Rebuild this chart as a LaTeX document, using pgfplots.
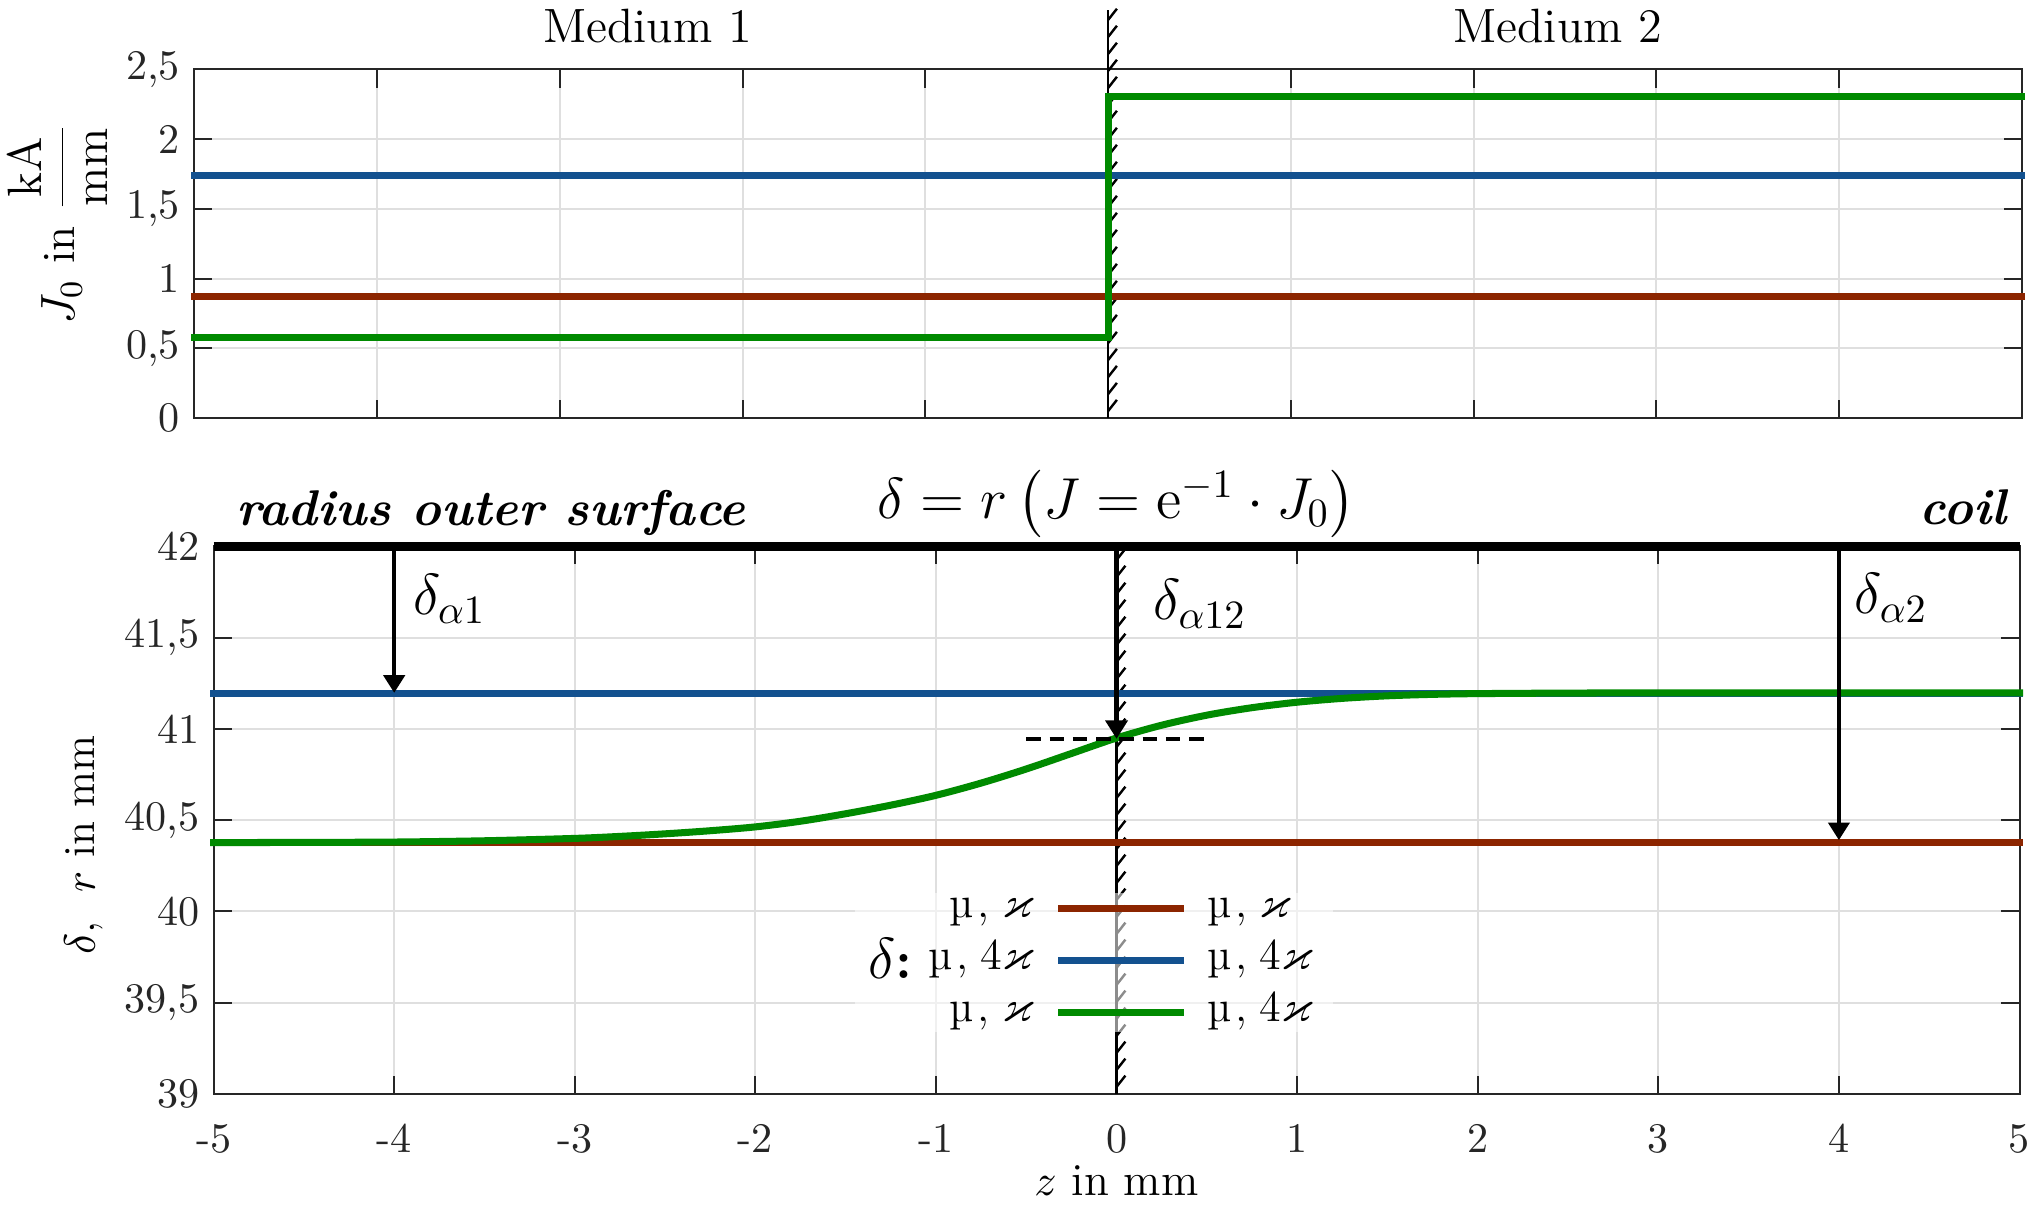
\documentclass[border=0pt]{standalone}
\usepackage{amsmath,amssymb}
\usepackage{pgfplots}
\pgfplotsset{compat=1.18}
\usetikzlibrary{arrows.meta}
\definecolor{axc}{RGB}{38,38,38}
\definecolor{gridc}{RGB}{223,223,223}
\definecolor{cred}{RGB}{140,37,0}
\definecolor{cblue}{RGB}{19,81,143}
\definecolor{cgreen}{RGB}{0,138,0}
\pgfplotsset{
  base/.style={scale only axis, clip=false, xmin=-5, xmax=5,
    axis line style={axc, line width=0.5pt},
    tick style={axc, line width=0.5pt},
    major tick length=4.5pt, tick align=inside,
    grid=major, major grid style={gridc, line width=0.5pt},
    tick label style={axc, font=\fontsize{10.5}{12}\selectfont},
    xtick={-5,-4,-3,-2,-1,0,1,2,3,4,5},
  },
  dl/.style={line width=1.75pt, line cap=rect, no marks},
}
\begin{document}
\begin{tikzpicture}
\useasboundingbox (0,0) rectangle (505.7pt,-301.66pt);
% ---------------- top axis ----------------
\begin{axis}[base, at={(48.38pt,-104.12pt)}, anchor=south west,
  width=455.3pt, height=86.81pt, ymin=0, ymax=2.5,
  ytick={0,0.5,1,1.5,2,2.5}, yticklabels={0,{0,5},1,{1,5},2,{2,5}},
  xticklabels={}]
\draw[black, line width=0.7pt] (axis cs:0,2.925) -- (axis cs:0,0);
\pgfplotsinvokeforeach{0,...,23}{\draw[black, line width=0.6pt] (axis cs:0,{2.855-#1*0.122}) -- ++(2.2pt,2.8pt);}
\addplot[dl, cred] coordinates {(-5,0.868) (5,0.868)};
\addplot[dl, cblue] coordinates {(-5,1.736) (5,1.736)};
\addplot[dl, cgreen, line join=miter] coordinates {(-5,0.577) (0,0.577) (0,2.308) (5,2.308)};
\node[font=\fontsize{12}{14}\selectfont] at (axis cs:-2.52,2.813) {Medium 1};
\node[font=\fontsize{12}{14}\selectfont] at (axis cs:2.46,2.813) {Medium 2};
\node[rotate=90, font=\fontsize{11.5}{13}\selectfont] at (rel axis cs:-0.0745,0.558) {$J_0$ in $\dfrac{\mathrm{kA}}{\mathrm{mm}}$};
\end{axis}
% ---------------- bottom axis ----------------
\begin{axis}[base, at={(53.21pt,-272.52pt)}, anchor=south west,
  width=449.87pt, height=136.43pt, ymin=39, ymax=42,
  ytick={39,39.5,40,40.5,41,41.5,42},
  yticklabels={39,{39,5},40,{40,5},41,{41,5},42},
  xticklabels={-5,-4,-3,-2,-1,0,1,2,3,4,5},
  xticklabel style={yshift=-4pt}]
\draw[black, line width=0.7pt] (axis cs:0,42) -- (axis cs:0,39);
\pgfplotsinvokeforeach{0,...,31}{\draw[black, line width=0.6pt] (axis cs:0,{41.925-#1*0.0931}) -- ++(2.2pt,2.8pt);}
\addplot[dl, cred] coordinates {(-5,40.377) (5,40.377)};
\addplot[dl, cblue] coordinates {(-5,41.196) (5,41.196)};
\addplot[dl, cgreen, smooth] coordinates {
 (-5,40.377) (-4.5,40.378) (-4,40.380) (-3.5,40.387) (-3,40.400) (-2.75,40.411)
 (-2.5,40.425) (-2.25,40.442) (-2,40.463) (-1.75,40.494) (-1.5,40.535) (-1.25,40.582)
 (-1,40.636) (-0.75,40.703) (-0.5,40.780) (-0.25,40.865) (0,40.950) (0.25,41.020)
 (0.5,41.075) (0.75,41.116) (1,41.146) (1.25,41.167) (1.5,41.181) (1.75,41.189)
 (2,41.193) (2.5,41.196) (3,41.197) (4,41.197) (5,41.197)};
\addplot[black, line width=2.2pt, no marks] coordinates {(-5,42) (5,42)};
\draw[-{Triangle[length=4.4pt,width=5.2pt]}, line width=1.1pt] (axis cs:-4,42) -- (axis cs:-4,41.197);
\draw[-{Triangle[length=4.6pt,width=5.4pt]}, line width=1.4pt] (axis cs:0,42) -- (axis cs:0,40.945);
\draw[-{Triangle[length=4.4pt,width=5.2pt]}, line width=1.1pt] (axis cs:4,42) -- (axis cs:4,40.39);
\draw[black, line width=0.8pt, dash pattern=on 3.6pt off 2.2pt] (axis cs:-0.5,40.945) -- (axis cs:0.5,40.945);
\node[anchor=west, inner sep=0, font=\fontsize{14.4}{17}\selectfont] at (axis cs:-3.9,41.71) {$\delta_{\alpha1}$};
\node[anchor=west, inner sep=0, font=\fontsize{14.4}{17}\selectfont] at (axis cs:0.2,41.685) {$\delta_{\alpha12}$};
\node[anchor=west, inner sep=0, font=\fontsize{14.4}{17}\selectfont] at (axis cs:4.083,41.717) {$\delta_{\alpha2}$};
\node[anchor=base west, inner sep=0, font=\fontsize{12.5}{15}\selectfont\bfseries\itshape] at (axis cs:-4.88,42.114) {radius outer surface};
\node[anchor=base east, inner sep=0, font=\fontsize{12.5}{15}\selectfont\bfseries\itshape] at (axis cs:4.93,42.117) {coil};
\node[anchor=base, inner sep=0, font=\fontsize{14}{16}\selectfont] at (axis cs:0,42.155) {$\delta = r\,\bigl(J = \mathrm{e}^{-1}\cdot J_0\bigr)$};
\node[rotate=90, font=\fontsize{11}{13}\selectfont] at (rel axis cs:-0.0718,0.4547) {$\delta$,\ \ $r$ in mm};
\node[font=\fontsize{11.4}{13}\selectfont] at (rel axis cs:0.5,-0.158) {$z$ in mm};
% legend
\fill[white, opacity=0.55] (axis cs:-1.45,39.34) rectangle (axis cs:1.2,40.10);
\draw[cred, line width=1.75pt] (axis cs:-0.323,40.014) -- (axis cs:0.375,40.014);
\draw[cblue, line width=1.75pt] (axis cs:-0.323,39.729) -- (axis cs:0.375,39.729);
\draw[cgreen, line width=1.75pt] (axis cs:-0.323,39.445) -- (axis cs:0.375,39.445);
\node[anchor=mid east, inner sep=0, font=\fontsize{11}{12}\selectfont] at (axis cs:-0.457,40.014) {µ\hspace{1pt},\hspace{3pt}$\varkappa$};
\node[anchor=mid east, inner sep=0, font=\fontsize{11}{12}\selectfont] at (axis cs:-0.457,39.729) {µ\hspace{1pt},\hspace{3pt}4$\varkappa$};
\node[anchor=mid east, inner sep=0, font=\fontsize{11}{12}\selectfont] at (axis cs:-0.457,39.445) {µ\hspace{1pt},\hspace{3pt}$\varkappa$};
\node[anchor=mid west, inner sep=0, font=\fontsize{11}{12}\selectfont] at (axis cs:0.5,40.014) {µ\hspace{1pt},\hspace{3pt}$\varkappa$};
\node[anchor=mid west, inner sep=0, font=\fontsize{11}{12}\selectfont] at (axis cs:0.5,39.729) {µ\hspace{1pt},\hspace{3pt}4$\varkappa$};
\node[anchor=mid west, inner sep=0, font=\fontsize{11}{12}\selectfont] at (axis cs:0.5,39.445) {µ\hspace{1pt},\hspace{3pt}4$\varkappa$};
\node[anchor=base west, inner sep=0, yshift=-4.5pt, font=\fontsize{13.5}{15}\selectfont] at (axis cs:-1.377,39.729) {$\delta$\textbf{:}};
\end{axis}
\end{tikzpicture}
\end{document}
